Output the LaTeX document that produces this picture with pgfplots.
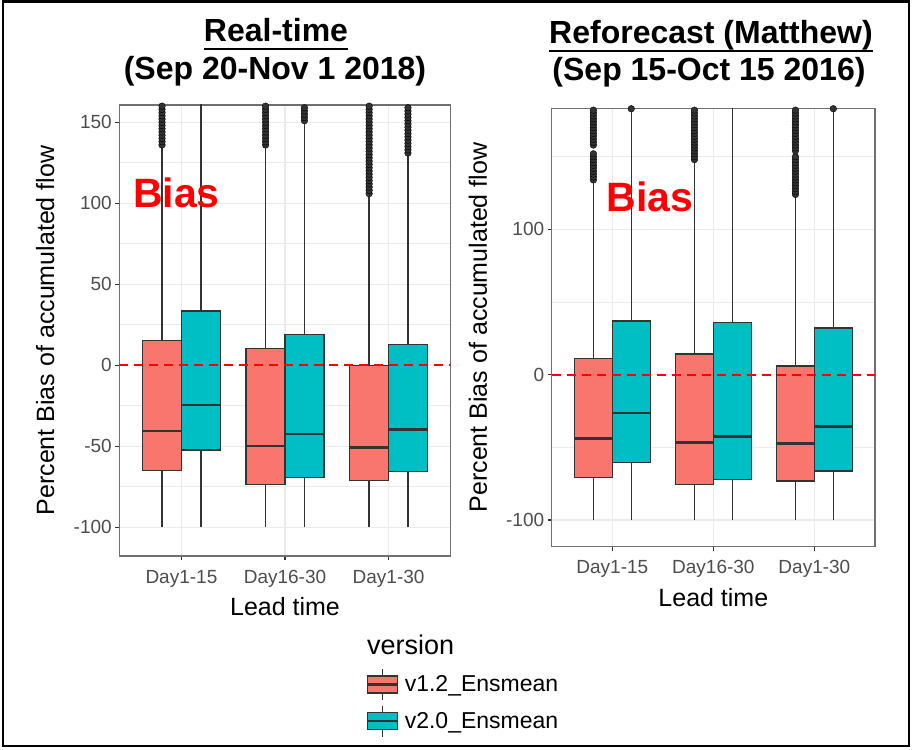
\documentclass[border=0pt]{standalone}
\usepackage{fontspec}
\setmainfont{Liberation Sans}
\usepackage{pgfplots}
\pgfplotsset{compat=1.18}
\usepgfplotslibrary{statistics}
\definecolor{cred}{HTML}{F8766D}
\definecolor{cteal}{HTML}{00BFC4}
\definecolor{c20}{HTML}{333333}
\definecolor{c30}{HTML}{4D4D4D}
\definecolor{cgrid}{HTML}{EBEBEB}
\definecolor{cborder}{HTML}{707070}
\pgfplotsset{
  gg/.style={
    scale only axis,
    xmin=0.4, xmax=3.6,
    xtick={1,2,3},
    xticklabels={Day1-15,Day16-30,Day1-30},
    tick align=outside,
    tick pos=left,
    major tick length=4pt,
    minor tick length=0pt,
    tick style={c20, line width=1.1pt},
    axis line style={cborder, line width=1.2pt},
    xmajorgrids, ymajorgrids, yminorgrids,
    major grid style={cgrid, line width=1.1pt},
    minor grid style={cgrid, line width=0.7pt},
    ticklabel style={text=c30, font=\fontsize{19}{22}\selectfont},
    xticklabel style={yshift=-6.5pt},
    label style={font=\fontsize{25}{30}\selectfont, text=black},
    xlabel={Lead time},
    ylabel={Percent Bias of accumulated flow},
    clip=true,
    boxplot/draw direction=y,
    boxplot/box extend=0.375,
    boxplot/whisker extend=0,
    boxplot/every box/.style={draw=c20, line width=1.4pt},
    boxplot/every whisker/.style={c20, line width=1.5pt},
    boxplot/every median/.style={c20, line width=2.8pt},
  },
  gbox/.style={draw=c20, line width=1.4pt, forget plot},
  outl/.style={only marks, mark=*, mark size=3.3pt, mark options={fill=c20, draw=none}, forget plot},
  zeroline/.style={red, line width=1.8pt, dash pattern=on 9pt off 6pt, forget plot},
}
\begin{document}
\begin{tikzpicture}
\useasboundingbox (0pt,0pt) rectangle (912pt,749pt);
\fill[white] (0pt,0pt) rectangle (912pt,749pt);
% ---------------- Left panel: Real-time ----------------
\begin{axis}[gg,
  at={(119.3pt,193pt)}, anchor=south west,
  width=331.4pt, height=451pt,
  ymin=-117.7, ymax=160.7,
  ytick={-100,-50,0,50,100,150},
  yticklabels={-100,-50,0,50,100,150},
  minor ytick={-75,-25,25,75,125},
  ylabel style={at={(axis description cs:-0.224,0.5)}, anchor=center},
  xlabel style={at={(axis description cs:0.5,-0.113)}, anchor=center},
  legend style={at={(axis description cs:0.745,-0.249)}, anchor=north west,
    draw=none, fill=none, inner sep=0pt, row sep=4pt,
    font=\fontsize{23}{27}\selectfont, cells={anchor=west},
    nodes={inner sep=2pt},
    /tikz/every odd column/.append style={column sep=4pt}},
]
% Day1-15
\addplot[boxplot prepared={lower whisker=-100, lower quartile=-64.8, median=-40.6, upper quartile=15.2, upper whisker=134, draw position=0.8125}, gbox, fill=cred] coordinates {};
\addplot[boxplot prepared={lower whisker=-100, lower quartile=-52.3, median=-24.5, upper quartile=33.5, upper whisker=200, draw position=1.1875}, gbox, fill=cteal] coordinates {};
% Day16-30
\addplot[boxplot prepared={lower whisker=-100, lower quartile=-73.5, median=-49.8, upper quartile=10.5, upper whisker=134, draw position=1.8125}, gbox, fill=cred] coordinates {};
\addplot[boxplot prepared={lower whisker=-100, lower quartile=-69.4, median=-42.4, upper quartile=19.1, upper whisker=149, draw position=2.1875}, gbox, fill=cteal] coordinates {};
% Day1-30
\addplot[boxplot prepared={lower whisker=-100, lower quartile=-71.2, median=-50.8, upper quartile=0, upper whisker=104, draw position=2.8125}, gbox, fill=cred] coordinates {};
\addplot[boxplot prepared={lower whisker=-100, lower quartile=-65.7, median=-39.7, upper quartile=13, upper whisker=129, draw position=3.1875}, gbox, fill=cteal] coordinates {};
% outliers
\addplot[outl] coordinates {(0.8125,136) (0.8125,138) (0.8125,140) (0.8125,142) (0.8125,144) (0.8125,146) (0.8125,148) (0.8125,150) (0.8125,152) (0.8125,154) (0.8125,156) (0.8125,158) (0.8125,160) (0.8125,162)};
\addplot[outl] coordinates {(1.8125,136) (1.8125,138) (1.8125,140) (1.8125,142) (1.8125,144) (1.8125,146) (1.8125,148) (1.8125,150) (1.8125,152) (1.8125,154) (1.8125,156) (1.8125,158) (1.8125,160) (1.8125,162)};
\addplot[outl] coordinates {(2.1875,151) (2.1875,153) (2.1875,155) (2.1875,157) (2.1875,159) (2.1875,161) (2.1875,163)};
\addplot[outl] coordinates {(2.8125,106) (2.8125,108) (2.8125,110) (2.8125,112) (2.8125,114) (2.8125,116) (2.8125,118) (2.8125,120) (2.8125,122) (2.8125,124) (2.8125,126) (2.8125,128) (2.8125,130) (2.8125,132) (2.8125,134) (2.8125,136) (2.8125,138) (2.8125,140) (2.8125,142) (2.8125,144) (2.8125,146) (2.8125,148) (2.8125,150) (2.8125,152) (2.8125,154) (2.8125,156) (2.8125,158) (2.8125,160) (2.8125,162)};
\addplot[outl] coordinates {(3.1875,131) (3.1875,133) (3.1875,135) (3.1875,137) (3.1875,139) (3.1875,141) (3.1875,143) (3.1875,145) (3.1875,147) (3.1875,149) (3.1875,151) (3.1875,153) (3.1875,155) (3.1875,157) (3.1875,159) (3.1875,161) (3.1875,163)};
\addplot[zeroline] coordinates {(0.4,0) (3.6,0)};
% legend
\addlegendimage{legend image code/.code={
  \draw[c20, line width=1.4pt] (15pt,-15.5pt) -- (15pt,15.5pt);
  \filldraw[fill=cred, draw=c20, line width=1.4pt] (0pt,-8.5pt) rectangle (30pt,8.5pt);
  \draw[c20, line width=2.4pt] (0pt,0pt) -- (30pt,0pt);}}
\addlegendentry{v1.2\_Ensmean}
\addlegendimage{legend image code/.code={
  \draw[c20, line width=1.4pt] (15pt,-15.5pt) -- (15pt,15.5pt);
  \filldraw[fill=cteal, draw=c20, line width=1.4pt] (0pt,-8.5pt) rectangle (30pt,8.5pt);
  \draw[c20, line width=2.4pt] (0pt,0pt) -- (30pt,0pt);}}
\addlegendentry{v2.0\_Ensmean}
\end{axis}
% ---------------- Right panel: Reforecast ----------------
\begin{axis}[gg,
  at={(551.7pt,202.3pt)}, anchor=south west,
  width=323.3pt, height=438.4pt,
  ymin=-118.4, ymax=183.3,
  ytick={-100,0,100},
  yticklabels={-100,0,100},
  minor ytick={-50,50,150},
  ylabel style={at={(axis description cs:-0.228,0.5)}, anchor=center},
  xlabel style={at={(axis description cs:0.5,-0.115)}, anchor=center},
]
\addplot[boxplot prepared={lower whisker=-100, lower quartile=-70.9, median=-43.8, upper quartile=11.3, upper whisker=132, draw position=0.8125}, gbox, fill=cred] coordinates {};
\addplot[boxplot prepared={lower whisker=-100, lower quartile=-60.6, median=-26.4, upper quartile=37, upper whisker=181, draw position=1.1875}, gbox, fill=cteal] coordinates {};
\addplot[boxplot prepared={lower whisker=-100, lower quartile=-75.4, median=-46.8, upper quartile=14.2, upper whisker=146, draw position=1.8125}, gbox, fill=cred] coordinates {};
\addplot[boxplot prepared={lower whisker=-100, lower quartile=-72, median=-42.4, upper quartile=36, upper whisker=200, draw position=2.1875}, gbox, fill=cteal] coordinates {};
\addplot[boxplot prepared={lower whisker=-100, lower quartile=-73.2, median=-47.2, upper quartile=6, upper whisker=122, draw position=2.8125}, gbox, fill=cred] coordinates {};
\addplot[boxplot prepared={lower whisker=-100, lower quartile=-66.3, median=-35.8, upper quartile=32.1, upper whisker=181, draw position=3.1875}, gbox, fill=cteal] coordinates {};
\addplot[outl] coordinates {(0.8125,134) (0.8125,136) (0.8125,138) (0.8125,140) (0.8125,142) (0.8125,144) (0.8125,146) (0.8125,148) (0.8125,150) (0.8125,152) (0.8125,158) (0.8125,160) (0.8125,162) (0.8125,164) (0.8125,166) (0.8125,168) (0.8125,170) (0.8125,172) (0.8125,174) (0.8125,176) (0.8125,178) (0.8125,180) (0.8125,182) (0.8125,184)};
\addplot[outl] coordinates {(1.1875,183)};
\addplot[outl] coordinates {(1.8125,148) (1.8125,150) (1.8125,152) (1.8125,154) (1.8125,156) (1.8125,158) (1.8125,160) (1.8125,162) (1.8125,164) (1.8125,166) (1.8125,168) (1.8125,170) (1.8125,172) (1.8125,174) (1.8125,176) (1.8125,178) (1.8125,180) (1.8125,182) (1.8125,184)};
\addplot[outl] coordinates {(2.8125,124) (2.8125,126) (2.8125,128) (2.8125,130) (2.8125,132) (2.8125,134) (2.8125,136) (2.8125,138) (2.8125,140) (2.8125,142) (2.8125,144) (2.8125,146) (2.8125,148) (2.8125,150) (2.8125,154) (2.8125,156) (2.8125,158) (2.8125,160) (2.8125,162) (2.8125,164) (2.8125,166) (2.8125,168) (2.8125,170) (2.8125,172) (2.8125,174) (2.8125,176) (2.8125,178) (2.8125,180) (2.8125,182) (2.8125,184)};
\addplot[outl] coordinates {(3.1875,183)};
\addplot[zeroline] coordinates {(0.4,0) (3.6,0)};
\end{axis}
% ---------------- Titles and annotations ----------------
\node[anchor=base, inner sep=0pt, font=\fontsize{32}{38}\selectfont\bfseries] (lt1) at (276pt,707pt) {Real-time};
\draw[line width=2pt] ([yshift=-7pt]lt1.base west) -- ([yshift=-7pt]lt1.base east);
\node[anchor=base, inner sep=0pt, font=\fontsize{32}{38}\selectfont\bfseries] at (275pt,669pt) {(Sep 20-Nov 1 2018)};
\node[anchor=base, inner sep=0pt, font=\fontsize{32}{38}\selectfont\bfseries] (rt1) at (711pt,705pt) {Reforecast (Matthew)};
\draw[line width=2pt] ([yshift=-7pt]rt1.base west) -- ([yshift=-7pt]rt1.base east);
\node[anchor=base, inner sep=0pt, font=\fontsize{32}{38}\selectfont\bfseries] at (709pt,668pt) {(Sep 15-Oct 15 2016)};
\node[anchor=base, inner sep=0pt, text=red, font=\fontsize{41}{48}\selectfont\bfseries] at (176.5pt,541pt) {Bias};
\node[anchor=base, inner sep=0pt, text=red, font=\fontsize{41}{48}\selectfont\bfseries] at (650pt,537pt) {Bias};
\node[anchor=base west, inner sep=0pt, font=\fontsize{27}{32}\selectfont] at (367pt,94pt) {version};
% outer frame
\draw[line width=2.2pt] (2.6pt,3pt) rectangle (909pt,747.5pt);
\end{tikzpicture}
\end{document}
